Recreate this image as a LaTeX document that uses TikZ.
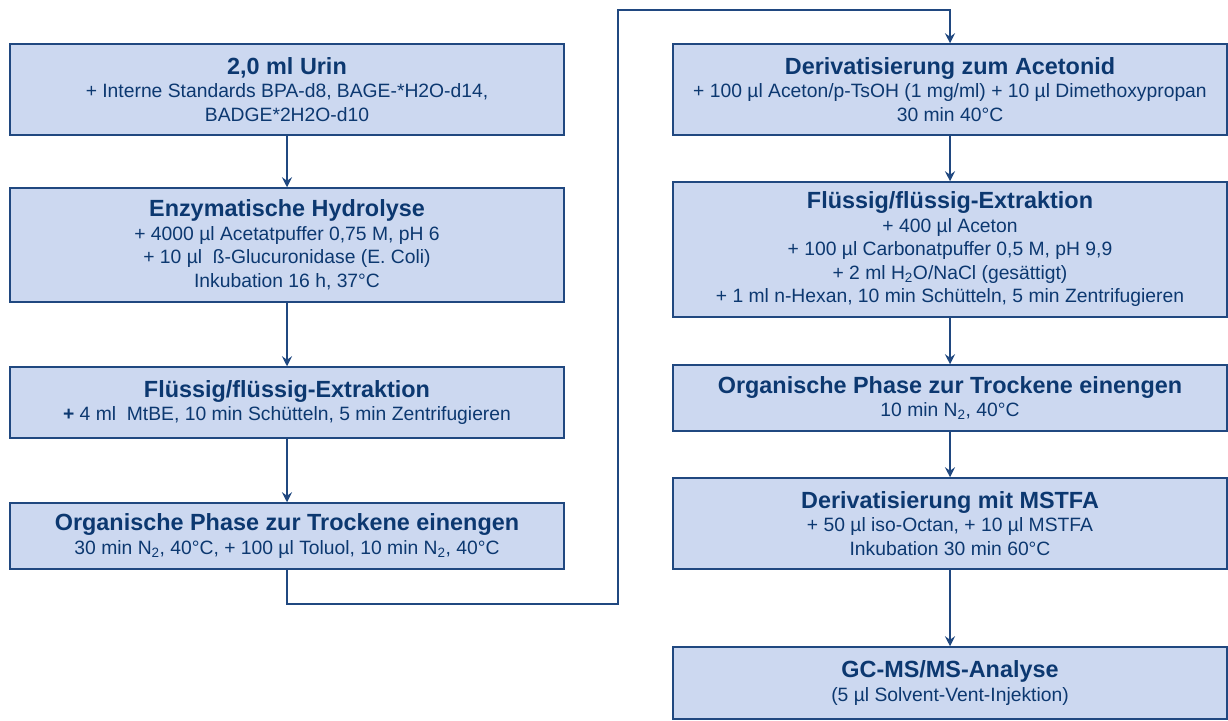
\documentclass[tikz,border=0pt]{standalone}
\usepackage{fontspec}
\setmainfont{Liberation Sans}
\usetikzlibrary{arrows.meta}
\definecolor{boxfill}{RGB}{204,216,240}
\definecolor{boxline}{RGB}{32,72,128}
\definecolor{txtblue}{RGB}{12,56,112}
\newcommand{\ttl}[1]{{\fontsize{23.4}{24}\selectfont\bfseries #1}}
\begin{document}
\begin{tikzpicture}[x=1pt,y=-1pt,
  stepbox/.style={draw=boxline, line width=1.5pt, fill=boxfill, text=txtblue,
    inner sep=0pt, align=center, font=\fontsize{19.3}{23.5}\selectfont},
  conn/.style={draw=boxline, line width=1.6pt,
    -{Stealth[length=10pt,width=10pt,inset=3.5pt]}},
  ]
\useasboundingbox (0,0) rectangle (1228,720);
% left column
\node[stepbox, minimum width=554pt, minimum height=91pt] (L1) at (287,89.5)
  {\ttl{2,0 ml Urin}\\+ Interne Standards BPA-d8, BAGE-*H2O-d14,\\BADGE*2H2O-d10};
\node[stepbox, minimum width=554pt, minimum height=114pt] (L2) at (287,245)
  {\ttl{Enzymatische Hydrolyse}\\+ 4000 µl Acetatpuffer 0,75 M, pH 6\\+ 10 µl~ ß-Glucuronidase (E. Coli)\\Inkubation 16 h, 37°C};
\node[stepbox, minimum width=554pt, minimum height=71pt] (L3) at (287,402.5)
  {\ttl{Flüssig/flüssig-Extraktion}\\\textbf{+} 4 ml~ MtBE, 10 min Schütteln, 5 min Zentrifugieren};
\node[stepbox, minimum width=554pt, minimum height=66pt] (L4) at (287,536)
  {\ttl{Organische Phase zur Trockene einengen}\\30 min N\textsubscript{2}, 40°C, + 100 µl Toluol, 10 min N\textsubscript{2}, 40°C};
% right column
\node[stepbox, minimum width=554pt, minimum height=91pt] (R1) at (950,89.5)
  {\ttl{Derivatisierung zum Acetonid}\\+ 100 µl Aceton/p-TsOH (1 mg/ml) + 10 µl Dimethoxypropan\\30 min 40°C};
\node[stepbox, minimum width=554pt, minimum height=135pt] (R2) at (950,249.5)
  {\ttl{Flüssig/flüssig-Extraktion}\\+ 400 µl Aceton\\+ 100 µl Carbonatpuffer 0,5 M, pH 9,9\\+ 2 ml H\textsubscript{2}O/NaCl (gesättigt)\\+ 1 ml n-Hexan, 10 min Schütteln, 5 min Zentrifugieren};
\node[stepbox, minimum width=554pt, minimum height=66pt] (R3) at (950,398)
  {\ttl{Organische Phase zur Trockene einengen}\\10 min N\textsubscript{2}, 40°C};
\node[stepbox, minimum width=554pt, minimum height=91pt] (R4) at (950,523.5)
  {\ttl{Derivatisierung mit MSTFA}\\+ 50 µl iso-Octan, + 10 µl MSTFA\\Inkubation 30 min 60°C};
\node[stepbox, minimum width=554pt, minimum height=72pt] (R5) at (950,683)
  {\ttl{GC-MS/MS-Analyse}\\(5 µl Solvent-Vent-Injektion)};
% connectors
\draw[conn] (L1) -- (L2);
\draw[conn] (L2) -- (L3);
\draw[conn] (L3) -- (L4);
\coordinate (c1) at (287,604);
\coordinate (c2) at (618,604);
\coordinate (c3) at (618,10);
\coordinate (c4) at (950,10);
\draw[conn] (L4.south) -- (c1) -- (c2) -- (c3) -- (c4) -- (R1.north);
\draw[conn] (R1) -- (R2);
\draw[conn] (R2) -- (R3);
\draw[conn] (R3) -- (R4);
\draw[conn] (R4) -- (R5);
\end{tikzpicture}
\end{document}
